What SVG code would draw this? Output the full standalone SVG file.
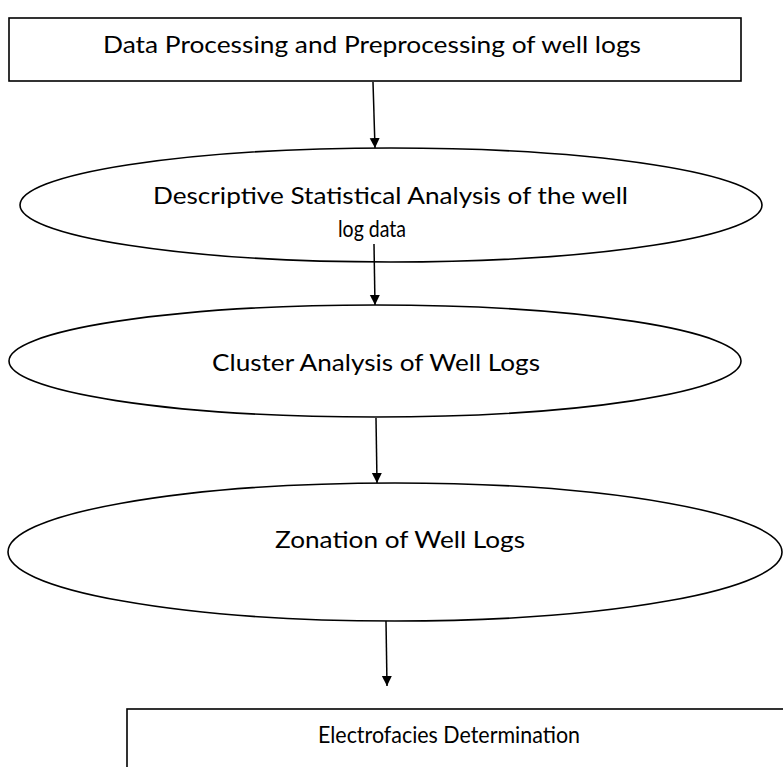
<svg xmlns="http://www.w3.org/2000/svg" width="783" height="767" viewBox="0 0 783 767">
<style>
.box{fill:#fff;stroke:#000;stroke-width:1.6}
.t{font-family:Lato,"Liberation Sans",sans-serif;font-size:24px;fill:#000}
.c{stroke:#000;stroke-width:1.5;fill:none}
</style>
<defs>
<marker id="ah" markerWidth="10" markerHeight="12" refX="10" refY="5" orient="auto" markerUnits="userSpaceOnUse" viewBox="0 0 10 10">
<path d="M0,0 L10,5 L0,10 z" fill="#000"/>
</marker>
</defs>
<rect width="783" height="767" fill="#fff"/>
<g id="n1">
<rect class="box" x="9" y="18" width="732" height="63"/>
<text class="t" x="103" y="53" textLength="538" lengthAdjust="spacingAndGlyphs">Data Processing and Preprocessing of well logs</text>
</g>
<g id="n2">
<ellipse class="box" cx="391" cy="205" rx="371" ry="57"/>
<text class="t" x="153" y="204" textLength="475" lengthAdjust="spacingAndGlyphs">Descriptive Statistical Analysis of the well</text>
<text class="t" x="338" y="237" textLength="68" lengthAdjust="spacingAndGlyphs">log data</text>
</g>
<g id="n3">
<ellipse class="box" cx="375" cy="361" rx="366" ry="56"/>
<text class="t" x="212" y="371" textLength="328" lengthAdjust="spacingAndGlyphs">Cluster Analysis of Well Logs</text>
</g>
<g id="n4">
<ellipse class="box" cx="395" cy="552" rx="387" ry="69"/>
<text class="t" x="275" y="548" textLength="250" lengthAdjust="spacingAndGlyphs">Zonation of Well Logs</text>
</g>
<g id="n5">
<rect class="box" x="127" y="709" width="680" height="80"/>
<text class="t" x="318" y="743" textLength="262" lengthAdjust="spacingAndGlyphs">Electrofacies Determination</text>
</g>
<g id="connectors">
<line class="c" x1="373" y1="82" x2="375" y2="148" marker-end="url(#ah)"/>
<line class="c" x1="374" y1="244" x2="375" y2="305" marker-end="url(#ah)"/>
<line class="c" x1="376" y1="418" x2="377" y2="483" marker-end="url(#ah)"/>
<line class="c" x1="386" y1="621" x2="387" y2="686" marker-end="url(#ah)"/>
</g>
</svg>
